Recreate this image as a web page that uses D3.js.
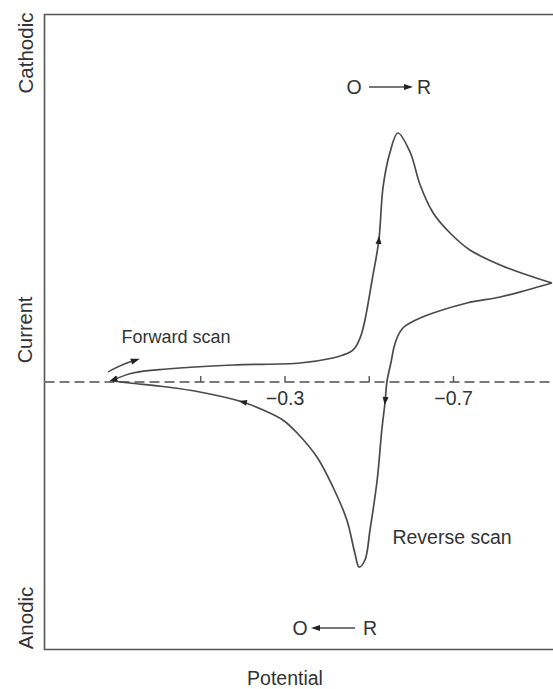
<!DOCTYPE html>
<html>
<head>
<meta charset="utf-8">
<script src="https://cdn.jsdelivr.net/npm/d3@7"></script>
<style>
  body { margin: 0; background: #fff; }
  svg { display: block; }
  text { font-family: "Liberation Sans", Arial, Helvetica, sans-serif; fill: #333; }
</style>
</head>
<body>
<svg id="chart" width="553" height="689"></svg>
<script>
// Cyclic voltammogram: potential (V) against current (arbitrary units, cathodic positive)
const forwardPotential = [0.107, 0.060, -0.021, -0.178, -0.337, -0.415, -0.439, -0.456, -0.467, -0.474, -0.482, -0.491, -0.508, -0.524, -0.534, -0.550, -0.569, -0.598, -0.622, -0.653, -0.693, -0.740, -0.812, -0.876, -0.935];
const forwardCurrent   = [0.10, 0.45, 0.65, 0.85, 0.95, 1.20, 1.35, 1.50, 1.70, 1.95, 2.35, 3.10, 5.10, 7.10, 9.75, 11.45, 12.45, 11.50, 9.85, 8.45, 7.45, 6.60, 5.85, 5.35, 4.95];

const reversePotential = [-0.935, -0.876, -0.812, -0.733, -0.653, -0.622, -0.598, -0.581, -0.569, -0.560, -0.553, -0.543, -0.539, -0.531, -0.520, -0.503, -0.491, -0.477, -0.467, -0.448, -0.415, -0.377, -0.330, -0.296, -0.249, -0.201, -0.099, -0.021, 0.067, 0.107];
const reverseCurrent   = [4.95, 4.60, 4.25, 3.95, 3.45, 3.20, 2.95, 2.70, 2.30, 1.75, 1.00, 0.00, -0.95, -2.40, -4.90, -7.40, -8.90, -9.25, -8.55, -6.90, -5.25, -3.75, -2.55, -1.90, -1.40, -1.00, -0.50, -0.25, -0.05, 0.05];

const potentialTicks = [0.1, -0.1, -0.3, -0.5, -0.7];
const labelledTicks = [-0.3, -0.7];

const forwardData = forwardPotential.map((e, k) => ({ e, i: forwardCurrent[k] }));
const reverseData = reversePotential.map((e, k) => ({ e, i: reverseCurrent[k] }));

const svg = d3.select("#chart");
const W = 553, H = 689;
const frame = { left: 44.5, top: 14.5, bottom: 649.5, right: 553 };

const x = d3.scaleLinear().domain([0.1, -0.7]).range([116, 453]);
const y = d3.scaleLinear().domain([0, 10]).range([382, 182]);

const ink = "#4a4a4a";

svg.append("rect").attr("width", W).attr("height", H).attr("fill", "#fff");

// frame (open on the right)
svg.append("path")
  .attr("d", `M${frame.right},${frame.top}H${frame.left}V${frame.bottom}H${frame.right}`)
  .attr("fill", "none").attr("stroke", "#555").attr("stroke-width", 1.6);

// zero-current tick on the current axis
svg.append("line")
  .attr("x1", frame.left).attr("x2", frame.left + 8)
  .attr("y1", y(0)).attr("y2", y(0))
  .attr("stroke", "#555").attr("stroke-width", 1.5);

// dashed zero-current line
svg.append("line")
  .attr("x1", frame.left).attr("x2", W)
  .attr("y1", y(0)).attr("y2", y(0))
  .attr("stroke", "#7a7a7a").attr("stroke-width", 2.2)
  .attr("stroke-dasharray", "10,5");

// potential axis drawn along the zero line
const axis = d3.axisBottom(x)
  .tickValues(potentialTicks)
  .tickSizeInner(-6).tickSizeOuter(0).tickPadding(9)
  .tickFormat(d => labelledTicks.includes(d) ? d3.format(".1f")(d).replace("-", "\u2212") : "");
const gAxis = svg.append("g").attr("transform", `translate(0,${y(0)})`).call(axis);
gAxis.select(".domain").remove();
gAxis.selectAll(".tick line").attr("stroke", "#555").attr("stroke-width", 1.4);
gAxis.selectAll(".tick text").attr("font-size", 19.5).attr("fill", "#333")
  .attr("font-family", "'Liberation Sans', Arial, sans-serif");

// voltammogram
const line = d3.line().x(d => x(d.e)).y(d => y(d.i)).curve(d3.curveCatmullRom.alpha(0.5));
[forwardData, reverseData].forEach(data => {
  svg.append("path").datum(data)
    .attr("d", line)
    .attr("fill", "none").attr("stroke", ink).attr("stroke-width", 1.7)
    .attr("stroke-linejoin", "round");
});

// direction arrowheads placed on the curve
function arrowOnCurve(data, k, towards) {
  const p = data[k], q = data[k + 1];
  const px = x(p.e), py = y(p.i), qx = x(q.e), qy = y(q.i);
  let ang = Math.atan2(qy - py, qx - px) * 180 / Math.PI;
  if (towards < 0) ang += 180;
  svg.append("path")
    .attr("d", "M4,0L-4,-3L-4,3Z")
    .attr("transform", `translate(${px},${py}) rotate(${ang})`)
    .attr("fill", "#222");
}
arrowOnCurve(forwardData, 13, 1);
arrowOnCurve(reverseData, 12, 1);
arrowOnCurve(reverseData, 25, 1);
arrowOnCurve(forwardData, 0, -1);

// small arrow beside "Forward scan"
const fx0 = 108, fy0 = 372, fx1 = 136, fy1 = 360;
svg.append("path")
  .attr("d", `M${fx0},${fy0}Q${(fx0 + fx1) / 2},${fy0 - 8} ${fx1},${fy1}`)
  .attr("fill", "none").attr("stroke", ink).attr("stroke-width", 1.4);
svg.append("path")
  .attr("d", "M4,0L-5,-3L-5,3Z")
  .attr("transform", `translate(${fx1},${fy1}) rotate(-18)`)
  .attr("fill", "#222");

// text labels
const label = (t, tx, ty, size, rot) => {
  const el = svg.append("text").text(t)
    .attr("font-size", size)
    .attr("text-anchor", "middle").attr("dominant-baseline", "central");
  if (rot) el.attr("transform", `translate(${tx},${ty}) rotate(${rot})`);
  else el.attr("x", tx).attr("y", ty);
  return el;
};
label("Cathodic", 25, 53, 20.5, -90);
label("Current", 25, 330, 20, -90);
label("Anodic", 25, 618, 20.5, -90);
label("Potential", 285, 678, 19.5);
label("Forward scan", 176, 337, 18);
label("Reverse scan", 452, 537, 19.5);

// reaction direction labels
function reaction(left, right, cx, cy, pointRight) {
  svg.append("text").text(left).attr("x", cx - 35).attr("y", cy)
    .attr("font-size", 19.5).attr("text-anchor", "middle").attr("dominant-baseline", "central");
  svg.append("text").text(right).attr("x", cx + 35).attr("y", cy)
    .attr("font-size", 19.5).attr("text-anchor", "middle").attr("dominant-baseline", "central");
  const a = cx - 20, b = cx + 20;
  svg.append("line").attr("x1", a).attr("x2", b).attr("y1", cy).attr("y2", cy)
    .attr("stroke", ink).attr("stroke-width", 1.3);
  const tip = pointRight ? b : a;
  svg.append("path").attr("d", "M4,0L-5,-3L-5,3Z")
    .attr("transform", `translate(${tip},${cy}) rotate(${pointRight ? 0 : 180})`)
    .attr("fill", "#222");
}
reaction("O", "R", 389, 87, true);
reaction("O", "R", 335, 628, false);
</script>
</body>
</html>
